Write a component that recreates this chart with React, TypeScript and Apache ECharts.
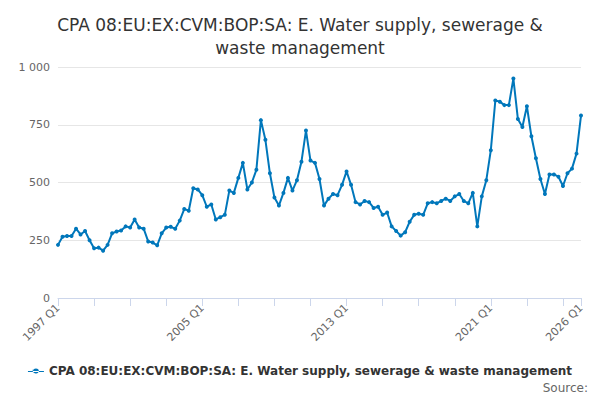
import React, { useEffect, useRef } from "react";
import * as echarts from "echarts";

const values = [230,265,268,268,300,275,290,250,215,218,205,230,280,288,292,310,305,340,305,300,245,240,228,280,305,308,300,335,385,378,475,470,
445,395,405,340,350,360,465,455,520,585,470,500,555,770,685,540,435,400,455,520,465,510,590,725,595,585,515,400,430,450,445,490,548,
490,415,405,420,415,390,395,360,370,310,290,270,285,330,360,365,360,410,415,410,420,430,420,440,450,420,410,455,310,
440,510,640,855,850,835,835,950,775,740,830,700,605,515,450,535,535,525,485,540,560,625,790];
const categories: string[] = values.map((_, i) => `${1997 + Math.floor(i / 4)} Q${(i % 4) + 1}`);
const labelIdx = [0, 32, 64, 96, 116];
const seriesName = "CPA 08:EU:EX:CVM:BOP:SA: E. Water supply, sewerage & waste management";

export default function App() {
  const ref = useRef<HTMLDivElement>(null);
  useEffect(() => {
    const chart = echarts.init(ref.current!, null, { renderer: "svg" });
    chart.setOption({
      animation: false,
      textStyle: { fontFamily: "DejaVu Sans" },
      title: {
        text: "CPA 08:EU:EX:CVM:BOP:SA: E. Water supply, sewerage &\nwaste management",
        left: "center", top: 0,
        textStyle: { fontSize: 17, fontWeight: "normal", color: "#333", lineHeight: 23 },
      },
      grid: { left: 50, right: 11, top: 59, bottom: 102 },
      xAxis: {
        type: "category", data: categories, boundaryGap: false,
        axisLine: { lineStyle: { color: "#ccd6eb" } },
        axisTick: { alignWithLabel: true, length: 8, lineStyle: { color: "#ccd6eb" },
          interval: (i: number) => i % 8 === 0 || i === values.length - 1 },
        axisLabel: { rotate: 45, color: "#666", fontSize: 11, margin: 8,
          interval: (i: number) => labelIdx.includes(i) },
      },
      yAxis: {
        type: "value", min: 0, max: 1000, interval: 250,
        axisLabel: { color: "#666", fontSize: 11, formatter: (v: number) => v >= 1000 ? "1 000" : String(v) },
        splitLine: { lineStyle: { color: "#e6e6e6" } },
      },
      legend: {
        top: 355, left: "center", itemWidth: 16, itemHeight: 8, itemGap: 4, padding: 2,
        textStyle: { fontSize: 12, fontWeight: "bold", color: "#333" },
        icon: "path://M0,4L16,4L16,5L0,5Z M5,2a3,3 0 1,0 6,2.5a3,3 0 1,0 -6,0Z",
      },
      graphic: [{ type: "text", right: 4, top: 374, style: { text: "Source:", fontSize: 12, fill: "#666", fontFamily: "DejaVu Sans" } }],
      series: [{
        name: seriesName, type: "line", data: values,
        symbol: "circle", symbolSize: 4, showSymbol: true, showAllSymbol: true,
        lineStyle: { color: "#0077bb", width: 2 }, itemStyle: { color: "#0077bb" },
      }],
    });
    return () => chart.dispose();
  }, []);
  return <div ref={ref} style={{ width: 584, height: 392 }} />;
}
